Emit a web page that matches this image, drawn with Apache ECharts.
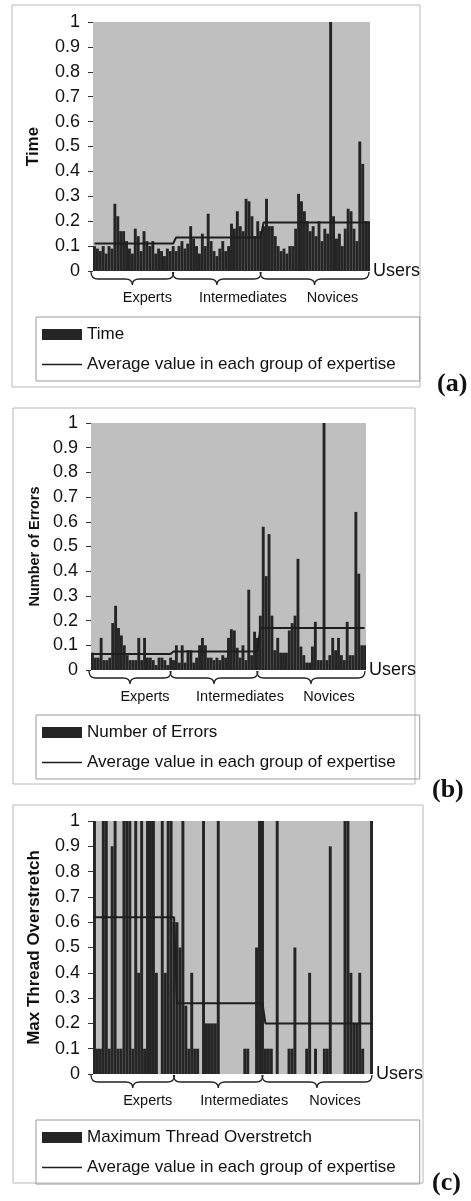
<!DOCTYPE html>
<html>
<head>
<meta charset="utf-8">
<script src="https://cdn.jsdelivr.net/npm/echarts@6/dist/echarts.min.js"></script>
<style>
  html, body { margin: 0; padding: 0; background: #fff; }
  #chart { width: 471px; height: 1201px; }
</style>
</head>
<body>
<div id="chart"></div>
<script>
// groups of expertise and how many users each one has
var groupNames = ['Experts', 'Intermediates', 'Novices'];
var groupSizes = [28, 30, 37];

// (a) normalised time per user
var timeValues = [
  0.1, 0.09, 0.08, 0.1, 0.07, 0.1, 0.09, 0.27, 0.22, 0.16, 0.16, 0.12, 0.09, 0.07,
  0.17, 0.14, 0.08, 0.16, 0.12, 0.1, 0.12, 0.07, 0.09, 0.08, 0.06, 0.09, 0.08, 0.1,
  0.08, 0.1, 0.12, 0.09, 0.11, 0.18, 0.13, 0.1, 0.07, 0.15, 0.1, 0.23, 0.12, 0.08, 0.06,
  0.09, 0.12, 0.08, 0.1, 0.19, 0.17, 0.24, 0.18, 0.16, 0.29, 0.28, 0.22, 0.14, 0.2, 0.16,
  0.18, 0.29, 0.18, 0.18, 0.14, 0.1, 0.08, 0.09, 0.07, 0.1, 0.1, 0.17, 0.31, 0.28, 0.24,
  0.2, 0.16, 0.18, 0.14, 0.2, 0.12, 0.17, 0.15, 1.0, 0.22, 0.13, 0.15, 0.1, 0.17, 0.25,
  0.24, 0.17, 0.12, 0.52, 0.43, 0.2, 0.2
];
var timeAverages = [0.11, 0.135, 0.195];

// (b) normalised number of errors per user
var errorValues = [
  0.07, 0.05, 0.05, 0.13, 0.04, 0.04, 0.05, 0.19, 0.26, 0.17, 0.14, 0.1, 0.06, 0.04,
  0.04, 0.04, 0.13, 0.04, 0.13, 0.05, 0.05, 0.04, 0.02, 0.05, 0.05, 0.04, 0.02, 0.05,
  0.04, 0.1, 0.03, 0.1, 0.03, 0.08, 0.08, 0.03, 0.05, 0.1, 0.13, 0.1, 0.05, 0.05, 0.04,
  0.05, 0.04, 0.06, 0.05, 0.13, 0.165, 0.16, 0.09, 0.05, 0.1, 0.04, 0.325, 0.06, 0.155, 0.13,
  0.22, 0.58, 0.38, 0.55, 0.22, 0.08, 0.13, 0.07, 0.07, 0.07, 0.16, 0.19, 0.22, 0.45,
  0.095, 0.06, 0.03, 0.03, 0.095, 0.195, 0.04, 0.04, 1.0, 0.04, 0.06, 0.13, 0.08, 0.13,
  0.06, 0.04, 0.195, 0.06, 0.06, 0.64, 0.39, 0.1, 0.1
];
var errorAverages = [0.065, 0.075, 0.17];

// (c) maximum thread overstretch per user
var overstretchValues = [
  1, 0.1, 0.1, 1, 1, 0.1, 0.9, 1, 0.1, 0.1, 1, 1, 1, 0.1,
  1, 0.4, 1, 0.1, 1, 1, 1, 0.4, 0, 1, 0.4, 1, 1, 0.6,
  0.6, 0.5, 1, 0.27, 0.1, 0.4, 0.1, 0.1, 0, 1, 0.2, 0.2, 0.2, 0.2, 1,
  0, 0, 0, 0, 0, 0, 0, 0, 0.1, 0.1, 0, 0, 0.5, 1, 1,
  0.1, 0.1, 0.1, 0, 1, 0, 0, 0, 0.1, 0.1, 0.5, 0, 0, 0, 0.1, 0.4, 0,
  0.1, 0, 0, 0.1, 0.1, 0.9, 0, 0, 0, 0, 1, 1, 0.4, 0.2, 0.2, 0.4,
  0.1, 0, 0, 1
];
var overstretchAverages = [0.62, 0.28, 0.2];

var avgName = 'Average value in each group of expertise';
var font = '"Liberation Sans", Arial, sans-serif';
var barColor = '#252525';

var panels = [
  { bar: 'Time', yName: 'Time', values: timeValues, avg: timeAverages, nameSize: 17, nameGap: 51,
    grid: { left: 93, top: 22, width: 277, height: 249 }, legendTop: 317 },
  { bar: 'Number of Errors', yName: 'Number of Errors', values: errorValues, avg: errorAverages, nameSize: 14.5, nameGap: 49,
    grid: { left: 91, top: 423, width: 275, height: 247 }, legendTop: 715 },
  { bar: 'Maximum Thread Overstretch', yName: 'Max Thread Overstretch', values: overstretchValues, avg: overstretchAverages, nameSize: 17, nameGap: 50,
    grid: { left: 93, top: 821, width: 280, height: 253 }, legendTop: 1120 }
];

// category index of the first/last user of each group
var braceData = [];
var start = 0;
for (var g = 0; g < groupSizes.length; g++) {
  braceData.push([start, start + groupSizes[g] - 1, 0]);
  start += groupSizes[g];
}
var users = [];
for (var u = 0; u < start; u++) users.push('U' + (u + 1));

var labelShift = [15, 26, 18];

function renderBrace(params, api) {
  var band = api.size([1, 0])[0];
  var a = api.coord([api.value(0), 0]);
  var b = api.coord([api.value(1), 0]);
  var x0 = a[0] - band / 2 - 2;
  var x1 = b[0] + band / 2 - 1;
  var y0 = a[1] + 1;
  var xm = (x0 + x1) / 2;
  var h = 7, r = 7, t = 6;
  var yh = y0 + h;
  var d = 'M' + x0 + ',' + y0 +
    ' Q' + x0 + ',' + yh + ' ' + (x0 + r) + ',' + yh +
    ' L' + (xm - r) + ',' + yh +
    ' Q' + xm + ',' + yh + ' ' + xm + ',' + (yh + t) +
    ' Q' + xm + ',' + yh + ' ' + (xm + r) + ',' + yh +
    ' L' + (x1 - r) + ',' + yh +
    ' Q' + x1 + ',' + yh + ' ' + x1 + ',' + y0;
  return {
    type: 'group',
    children: [
      { type: 'path', shape: { pathData: d }, style: { fill: 'none', stroke: '#222', lineWidth: 1.3 } },
      { type: 'text', style: {
          text: groupNames[params.dataIndex], x: xm + labelShift[params.dataIndex], y: y0 + 26,
          align: 'center', verticalAlign: 'middle', font: '14.5px ' + font, fill: '#111'
      } }
    ]
  };
}

var option = {
  animation: false,
  backgroundColor: '#fff',
  title: [
    { text: '(a)', left: 437, top: 371 },
    { text: '(b)', left: 432, top: 777 },
    { text: '(c)', left: 432, top: 1170 }
  ].map(function (t) {
    t.textStyle = { fontFamily: '"Liberation Serif", "Times New Roman", serif', fontWeight: 'bold', fontSize: 26, color: '#111' };
    t.padding = 0;
    return t;
  }),
  grid: [], xAxis: [], yAxis: [], legend: [], series: [],
  graphic: [
    { type: 'rect', shape: { x: 12, y: 5, width: 408, height: 382 }, style: { fill: 'none', stroke: '#b8b8b8', lineWidth: 1 }, z: -1 },
    { type: 'rect', shape: { x: 13, y: 408, width: 402, height: 376 }, style: { fill: 'none', stroke: '#b8b8b8', lineWidth: 1 }, z: -1 },
    { type: 'rect', shape: { x: 13, y: 805, width: 410, height: 378 }, style: { fill: 'none', stroke: '#b8b8b8', lineWidth: 1 }, z: -1 }
  ]
};

panels.forEach(function (p, i) {
  var avgLine = [];
  for (var g = 0; g < groupSizes.length; g++) {
    for (var k = 0; k < groupSizes[g]; k++) avgLine.push(p.avg[g]);
  }
  option.grid.push({
    left: p.grid.left, top: p.grid.top, width: p.grid.width, height: p.grid.height,
    show: true, backgroundColor: '#bfbfbf', borderWidth: 0
  });
  option.xAxis.push({
    type: 'category', gridIndex: i, data: users,
    axisLine: { show: false }, axisTick: { show: false }, axisLabel: { show: false },
    name: 'Users', nameLocation: 'end', nameGap: 3,
    nameTextStyle: { fontFamily: font, fontSize: 18, color: '#111', verticalAlign: 'middle' }
  });
  option.yAxis.push({
    type: 'value', gridIndex: i, min: 0, max: 1, interval: 0.1,
    name: p.yName, nameLocation: 'middle', nameRotate: 90, nameGap: p.nameGap,
    nameTextStyle: { fontFamily: font, fontSize: p.nameSize, fontWeight: 'bold', color: '#111' },
    axisLine: { show: false },
    axisTick: { show: true, length: 5, lineStyle: { color: '#333' } },
    axisLabel: { margin: 13, fontFamily: font, fontSize: 18, color: '#111' },
    splitLine: { show: false }
  });
  option.legend.push({
    orient: 'vertical', left: 36, top: p.legendTop,
    padding: [9, 24, 8, 6], itemGap: 13, itemWidth: 40, itemHeight: 11,
    borderColor: '#9a9a9a', borderWidth: 1,
    textStyle: { fontFamily: font, fontSize: 17, color: '#111' },
    data: [
      { name: p.bar, icon: 'rect' },
      { name: avgName, icon: 'path://M0,0H40V1.5H0Z' }
    ]
  });
  option.series.push({
    name: p.bar, type: 'bar', xAxisIndex: i, yAxisIndex: i,
    data: p.values, barCategoryGap: '0%', itemStyle: { color: barColor }
  });
  option.series.push({
    name: avgName, type: 'line', xAxisIndex: i, yAxisIndex: i,
    data: avgLine, symbol: 'none', z: 4,
    lineStyle: { color: '#1e1e1e', width: 2 }, itemStyle: { color: '#1e1e1e' }
  });
  option.series.push({
    type: 'custom', xAxisIndex: i, yAxisIndex: i, silent: true, clip: false,
    data: braceData, encode: { x: [0, 1], y: 2 }, renderItem: renderBrace, z: 5
  });
});

var myChart = echarts.init(document.getElementById('chart'));
myChart.setOption(option);
</script>
</body>
</html>
